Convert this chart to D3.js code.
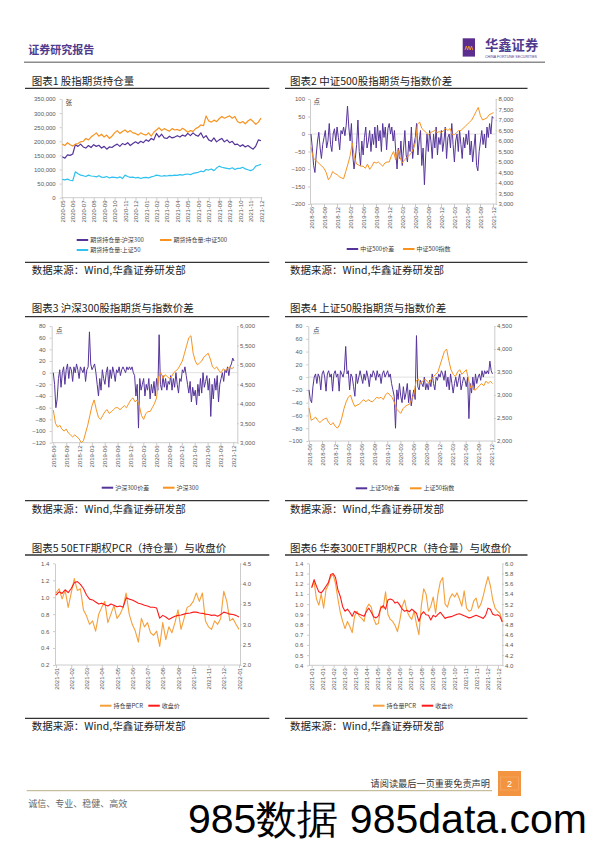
<!DOCTYPE html>
<html><head><meta charset="utf-8">
<script src="https://cdn.jsdelivr.net/npm/d3@7/dist/d3.min.js"></script>
<style>html,body{margin:0;padding:0;background:#fff;}svg{display:block;}</style>
</head><body>
<svg id="page" width="596" height="842"></svg>
<script>
// ---------- DATA ----------
const c1Labels = ["2020-05","2020-06","2020-07","2020-08","2020-09","2020-10","2020-11","2020-12","2021-01","2021-02","2021-03","2021-04","2021-05","2021-06","2021-07","2021-08","2021-09","2021-10","2021-11","2021-12"];
const c1Ticks = [0,50000,100000,150000,200000,250000,300000,350000];
const c1HS300 = [145000,140000,152000,150000,155000,188000,182000,190000,180000,176000,185000,178000,188000,182000,186000,176000,182000,172000,180000,178000,185000,190000,182000,192000,188000,195000,185000,192000,198000,192000,200000,195000,205000,200000,210000,205000,228000,215000,225000,212000,210000,218000,212000,215000,220000,215000,222000,218000,228000,220000,230000,222000,218000,230000,212000,220000,205000,200000,212000,198000,205000,210000,198000,205000,195000,200000,188000,190000,182000,188000,180000,185000,178000,172000,183000,205000,202000];
const c1ZZ500 = [190000,185000,195000,188000,183000,190000,192000,198000,200000,210000,205000,215000,222000,230000,218000,225000,215000,222000,210000,218000,230000,238000,228000,235000,240000,232000,238000,230000,228000,222000,230000,225000,222000,230000,218000,232000,240000,248000,238000,245000,240000,236000,245000,240000,242000,238000,246000,240000,232000,238000,235000,245000,250000,258000,255000,290000,272000,268000,275000,270000,280000,288000,282000,286000,290000,282000,288000,270000,265000,270000,262000,272000,278000,270000,260000,268000,282000];
const c1SZ50 = [65000,63000,66000,62000,60000,92000,85000,80000,78000,75000,80000,77000,76000,74000,78000,73000,72000,75000,70000,73000,72000,70000,74000,68000,80000,75000,72000,73000,70000,72000,68000,71000,72000,70000,74000,76000,80000,78000,76000,78000,77000,79000,78000,80000,79000,82000,80000,83000,84000,82000,86000,88000,90000,94000,92000,100000,98000,102000,96000,105000,112000,108000,106000,104000,102000,106000,100000,104000,104000,108000,102000,99000,96000,100000,112000,115000,118000];

const qLabels = ["2018-06","2018-09","2018-12","2019-03","2019-06","2019-09","2019-12","2020-03","2020-06","2020-09","2020-12","2021-03","2021-06","2021-09","2021-12"];

const c2LeftTicks = [-200,-150,-100,-50,0,50,100];
const c2RightTicks = [3000,3500,4000,4500,5000,5500,6000,6500,7000,7500,8000];
const c2Spread = [0,-40,-90,-110,-60,-20,5,-40,-70,-30,
 -10,10,-40,-20,30,-30,-50,0,15,-20,
 20,-10,-45,10,0,20,-5,25,80,20,
 -20,30,-60,-100,-70,-30,40,-50,-90,-20,
 -60,-10,20,-40,-20,10,-50,0,-30,20,
 -40,25,-20,10,-50,30,-10,20,-45,15,
 30,0,20,-20,10,-50,-100,-40,-70,-20,
 -90,-40,10,-60,-80,-20,-50,20,-70,-30,
 -10,30,-60,-20,10,-90,-40,-145,-60,0,
 -50,10,-20,-70,0,-40,20,-60,-10,-30,
 10,-50,-20,20,-70,-10,0,-40,30,-30,
 -80,-20,0,-50,10,-30,-70,-10,-40,0,
 -30,10,-60,-20,-80,-40,0,-90,-105,-50,
 -20,10,-30,0,-40,20,-10,30,0,50,45];
const c2Index = [5700,5200,5100,5000,4900,4800,
 4700,4500,4150,4300,4550,4450,
 4400,4300,4250,4200,4550,4900,
 5300,5900,5200,4900,4850,4800,
 4800,4700,4900,4650,4800,5000,
 4950,5000,4900,4800,4950,5000,
 5000,5300,5500,5100,5600,5200,
 4950,5100,5200,5300,5400,5600,
 5900,6800,6900,6600,6500,6400,
 6300,6400,6450,6500,6400,6450,
 6400,6500,6600,6500,6600,6300,
 6300,6400,6500,6500,6600,6700,
 6800,6900,7000,7200,7400,7600,
 7200,7000,7050,7100,7250,7300,7350];

const c3LeftTicks = [-120,-100,-80,-60,-40,-20,0,20,40,60,80];
const c3RightTicks = [3000,3500,4000,4500,5000,5500,6000];
const c3Spread = [0,-20,-60,-45,-10,5,-25,0,10,-20,
 5,15,-10,10,5,-15,10,0,15,5,
 -10,10,5,0,10,-15,5,10,70,15,
 5,10,15,0,-20,-40,-10,-30,5,-10,
 -20,0,10,-25,5,-10,10,0,-15,5,
 0,10,-5,5,10,5,0,10,5,10,
 5,10,0,-5,-40,-20,-95,-10,-30,-20,
 -10,-40,-20,-30,-10,-45,-20,-35,-15,-40,
 -10,-30,65,-20,-30,-5,-25,-10,-30,-15,
 -20,-5,-30,-10,-25,0,-20,-35,-10,-15,
 5,0,10,-5,-20,-35,-15,-50,-25,-40,
 -30,-55,-20,-40,-10,-35,0,-25,-15,-5,
 -30,-10,-75,-20,-45,-10,-30,-5,-50,-20,
 -10,0,-15,5,0,10,-5,10,15,25,20];
const c3Index = [3840,3500,3400,3450,3350,3300,
 3350,3250,3200,3150,3200,3150,
 3100,3000,3050,3250,3450,3700,
 3950,4100,3850,3650,3600,3700,
 3800,3850,3750,3800,3850,3900,
 3900,3850,3900,3950,3900,4000,
 4100,4150,4050,4100,3950,3700,
 3600,3750,3800,3800,3900,4000,
 4150,4700,4800,4650,4750,4700,
 4650,4700,4800,4850,4900,5000,
 5100,5300,5500,5700,5750,5300,
 5100,5000,5050,5100,5200,5250,
 5300,5150,4950,4900,4950,4850,
 4800,4900,4850,4900,4950,4900,4950];

const c4LeftTicks = [-100,-80,-60,-40,-20,0,20,40,60,80];
const c4RightTicks = [2000,2500,3000,3500,4000,4500];
const c4Spread = [-20,-35,-40,-15,0,5,-10,5,0,-20,
 5,10,0,-22,5,10,0,5,-22,5,
 10,0,5,-22,10,5,0,10,48,5,
 10,-20,5,0,-15,-30,5,-10,0,10,
 0,-10,5,-5,10,0,-15,5,0,10,
 5,-5,10,0,5,-10,5,10,0,5,
 10,0,5,-10,-20,-30,-80,-20,-35,-10,
 -30,-40,-15,-35,-25,-10,-40,-20,-45,-30,
 -20,-35,65,-15,-20,-5,-10,-15,0,-20,
 -10,-20,-5,-15,5,-10,-20,0,-5,5,
 0,10,5,-5,10,-15,0,-20,5,-10,
 -25,-10,0,-15,-5,5,-20,-10,0,-5,
 -15,0,-65,-10,-25,0,-20,5,-10,0,
 5,-5,10,0,10,5,10,5,25,10,5];
const c4Index = [2720,2450,2480,2520,2450,2400,
 2450,2480,2500,2400,2350,2400,
 2320,2280,2350,2500,2700,2850,
 2950,3000,2850,2750,2780,2800,
 2850,2900,2850,2900,2870,2850,
 2900,2950,2930,2950,2900,3000,
 3050,3000,2950,2850,2700,2650,
 2600,2700,2750,2780,2800,2900,
 3000,3300,3350,3250,3300,3350,
 3300,3250,3350,3400,3450,3500,
 3650,3800,3950,4000,3750,3550,
 3450,3400,3500,3550,3450,3500,
 3550,3350,3150,3200,3100,3150,
 3200,3250,3200,3300,3250,3300,3250];

const c5Labels = ["2021-01","2021-02","2021-03","2021-04","2021-05","2021-06","2021-07","2021-08","2021-09","2021-10","2021-11","2021-12","2022-01"];
const c5LeftTicks = [0.2,0.4,0.6,0.8,1.0,1.2,1.4];
const c5RightTicks = [2.0,2.5,3.0,3.5,4.0,4.5];
const c5PCR = [1.05,1.10,0.98,1.08,0.88,1.05,1.22,1.08,1.10,0.85,
 0.78,0.68,0.72,0.60,0.80,0.88,0.95,0.70,0.80,0.90,
 0.75,0.80,0.88,1.05,0.80,0.68,0.60,0.47,0.75,0.65,
 0.70,0.58,0.55,0.60,0.42,0.70,0.50,0.65,0.58,0.70,
 0.85,0.62,0.75,0.88,0.90,0.95,1.05,0.95,1.05,0.72,
 0.65,0.62,0.72,0.68,0.75,1.07,0.95,0.72,0.75,0.68,0.62];
const c5Close = [3.72,3.80,3.76,3.85,3.78,3.88,4.02,4.05,3.98,3.88,
 3.72,3.62,3.60,3.55,3.50,3.52,3.48,3.45,3.50,3.47,
 3.43,3.45,3.42,3.65,3.62,3.60,3.56,3.52,3.50,3.47,
 3.45,3.42,3.42,3.40,3.15,3.22,3.18,3.12,3.16,3.20,
 3.22,3.23,3.25,3.27,3.28,3.30,3.30,3.28,3.27,3.25,
 3.24,3.22,3.23,3.20,3.24,3.30,3.28,3.25,3.24,3.22,3.18];

const c6Labels = ["2021-01","2021-01","2021-02","2021-03","2021-03","2021-04","2021-05","2021-06","2021-06","2021-07","2021-08","2021-08","2021-09","2021-10","2021-11","2021-11","2021-12","2021-12"];
const c6LeftTicks = [0.4,0.5,0.6,0.7,0.8,0.9,1.0,1.1,1.2,1.3,1.4];
const c6RightTicks = [4.0,4.2,4.4,4.6,4.8,5.0,5.2,5.4,5.6,5.8,6.0];
const c6PCR = [1.17,1.22,1.05,0.99,1.10,0.96,1.14,1.19,1.27,1.29,
 1.20,1.05,0.92,0.83,0.76,0.83,0.78,0.72,0.88,0.93,
 0.88,0.86,0.83,0.96,1.00,0.97,0.86,0.80,0.81,0.98,
 0.96,1.12,0.90,0.85,0.83,0.79,0.73,0.84,0.98,1.04,
 0.93,0.88,0.85,0.93,0.80,0.70,0.98,1.15,1.10,0.93,
 0.98,1.07,0.91,1.10,1.22,1.26,1.00,0.97,1.06,1.10,
 1.07,1.11,1.05,0.98,1.13,0.96,0.93,0.94,1.03,1.06,
 0.96,1.00,1.08,1.18,1.27,1.18,1.04,0.96,0.93,0.91,0.83];
const c6Close = [5.52,5.68,5.55,5.44,5.42,5.48,5.55,5.62,5.78,5.80,
 5.72,5.48,5.35,5.15,5.06,5.10,5.04,4.96,5.06,5.02,
 5.00,4.98,4.96,5.06,5.12,5.04,4.95,4.93,4.97,5.12,
 5.17,5.10,5.28,5.30,5.28,5.22,5.24,5.18,5.10,5.06,
 5.08,5.05,5.10,5.06,5.02,4.86,5.00,5.05,4.99,4.98,
 4.89,4.98,4.95,5.00,5.04,4.98,4.92,4.94,4.95,4.96,
 4.98,5.00,5.01,4.99,4.97,4.95,4.93,4.94,4.96,4.98,
 4.96,4.94,4.92,4.98,5.12,5.10,5.00,4.98,4.99,4.96,4.85];

// ---------- DRAWING ----------
const svg = d3.select("#page");
const CJK = "'Noto Sans CJK SC','Noto Sans',sans-serif";
const LAT = "'Liberation Sans',Arial,sans-serif";
const PURPLE = "#55349a", ORANGE = "#f7931e", CYAN = "#2fc1ef", ORANGE2 = "#f5a03a", RED = "#ff1a1a";
const fmtC = d3.format(","), fmt1 = d3.format(".1f");

function txt(x, y, s, size, fill, opts = {}) {
  const t = svg.append("text").attr("x", x).attr("y", y).text(s)
    .attr("font-size", size).attr("fill", fill).attr("font-family", opts.family || CJK);
  if (opts.anchor) t.attr("text-anchor", opts.anchor);
  if (opts.weight) t.attr("font-weight", opts.weight);
  return t;
}
function hline(x1, x2, y, color, w) {
  svg.append("line").attr("x1", x1).attr("x2", x2).attr("y1", y).attr("y2", y)
    .attr("stroke", color).attr("stroke-width", w);
}

// Header
txt(28.3, 54, "证券研究报告", 11, "#4f3a8d", {weight: 600});
svg.append("rect").attr("x", 462.7).attr("y", 38.3).attr("width", 12.3).attr("height", 18.3).attr("fill", "#5b2d8e");
svg.append("path").attr("d", "M465,50 l1.3,-4 l1.3,4 l1.3,-4 l1.3,4 l1.3,-4 l1.3,4").attr("fill", "none").attr("stroke", "#f39a2c").attr("stroke-width", 0.9);
txt(485, 50, "华鑫证券", 13.3, "#4f3a8d", {weight: 700});
txt(485, 57.5, "CHINA FORTUNE SECURITIES", 3.8, "#4f3a8d", {family: LAT}).attr("textLength", 52).attr("lengthAdjust", "spacingAndGlyphs");
hline(24, 545, 62.3, "#8c8c8c", 1.4);

// Footer
hline(26.7, 492, 790.7, "#b9ae84", 1);
txt(490, 787.3, "请阅读最后一页重要免责声明", 9.2, "#333", {anchor: "end"});
svg.append("rect").attr("x", 498).attr("y", 771).attr("width", 23).attr("height", 25).attr("fill", "#f29440");
svg.append("rect").attr("x", 500.5).attr("y", 777).attr("width", 18).attr("height", 13).attr("fill", "none").attr("stroke", "#f7b47a").attr("stroke-width", 0.5);
txt(509.5, 787.3, "2", 9, "#fff", {anchor: "middle", family: LAT});
txt(28.3, 806.5, "诚信、专业、稳健、高效", 9, "#666");
txt(188, 832.5, "985数据 985data.com", 40, "#000", {family: LAT}).attr("textLength", 399).attr("lengthAdjust", "spacingAndGlyphs");

// Panel frames: title, underline, source
function frame(col, titleY, ulY, srcLineY, srcY, title) {
  const x0 = col === 0 ? 25 : 285, x1 = col === 0 ? 269.3 : 527.5, tx = col === 0 ? 31.7 : 290;
  txt(tx, titleY, title, 10.5, "#222");
  hline(x0, x1, ulY, "#333", 1.3);
  hline(x0, x1, srcLineY, "#333", 1.3);
  txt(tx, srcY, "数据来源：Wind,华鑫证券研发部", 10.5, "#222");
}
frame(0, 85.4, 88.3, 262.3, 273.8, "图表1 股指期货持仓量");
frame(1, 85.4, 88.3, 262.3, 273.8, "图表2 中证500股指期货与指数价差");
frame(0, 312.3, 316.7, 500.7, 512.5, "图表3 沪深300股指期货与指数价差");
frame(1, 312.3, 316.7, 500.7, 512.5, "图表4 上证50股指期货与指数价差");
frame(0, 551.7, 555, 718.3, 730.4, "图表5 50ETF期权PCR（持仓量）与收盘价");
frame(1, 551.7, 555, 718.3, 730.4, "图表6 华泰300ETF期权PCR（持仓量）与收盘价");

function styleAxis(g) {
  g.select(".domain").attr("stroke", "#bfbfbf").attr("stroke-width", 0.8);
  g.selectAll(".tick line").attr("stroke", "#bfbfbf").attr("stroke-width", 0.8);
  g.selectAll("text").attr("fill", "#595959").attr("font-size", 6).attr("font-family", LAT);
}

function chart(cfg) {
  const g = svg.append("g");
  const n = cfg.xLabels.length;
  const xl = d3.scaleLinear().domain([0, n - 1]).range(cfg.labelRange);
  const yL = d3.scaleLinear().domain(cfg.yLDomain).range(cfg.yRange);
  const yR = cfg.yRDomain ? d3.scaleLinear().domain(cfg.yRDomain).range(cfg.yRange) : null;
  const yBot = cfg.yRange[0];
  if (cfg.zero) g.append("line").attr("x1", cfg.axL).attr("x2", cfg.axR).attr("y1", yL(0)).attr("y2", yL(0))
    .attr("stroke", "#d9d9d9").attr("stroke-width", 0.8);
  const gL = g.append("g").attr("transform", `translate(${cfg.axL},0)`)
    .call(d3.axisLeft(yL).tickValues(cfg.yLTicks).tickFormat(cfg.yLFmt).tickSizeInner(2).tickSizeOuter(0).tickPadding(cfg.padL));
  styleAxis(gL);
  if (yR) {
    const gR = g.append("g").attr("transform", `translate(${cfg.axR},0)`)
      .call(d3.axisRight(yR).tickValues(cfg.yRTicks).tickFormat(cfg.yRFmt).tickSizeInner(1.5).tickSizeOuter(0).tickPadding(1.2));
    styleAxis(gR);
  }
  const gB = g.append("g").attr("transform", `translate(0,${yBot})`)
    .call(d3.axisBottom(xl).tickValues(d3.range(n)).tickFormat(i => cfg.xLabels[i]).tickSizeInner(3).tickSizeOuter(0));
  styleAxis(gB);
  gB.select(".domain").remove();
  gB.selectAll("text").attr("transform", "rotate(-90)").attr("x", -2.8).attr("y", 0).attr("dy", "0.35em").style("text-anchor", "end");
  g.append("line").attr("x1", cfg.axL).attr("x2", cfg.axR).attr("y1", yBot).attr("y2", yBot).attr("stroke", "#bfbfbf").attr("stroke-width", 0.8);
  cfg.series.forEach(s => {
    const xs = d3.scaleLinear().domain([0, s.values.length - 1]).range(cfg.dataRange);
    const ys = s.axis === "R" ? yR : yL;
    g.append("path").datum(s.values)
      .attr("d", d3.line().x((d, i) => xs(i)).y(d => ys(d)))
      .attr("fill", "none").attr("stroke", s.color).attr("stroke-width", s.width || 1)
      .attr("stroke-linejoin", "round");
  });
  if (cfg.unit) txt(cfg.unit[0], cfg.unit[1], cfg.unit[2], 6.5, "#404040");
  cfg.legend.forEach(l => {
    g.append("line").attr("x1", l.x).attr("x2", l.x + 11.5).attr("y1", l.y).attr("y2", l.y)
      .attr("stroke", l.color).attr("stroke-width", 2);
    txt(l.x + 13.5, l.y + 2.1, l.label, 6, "#404040");
  });
}

chart({
  xLabels: c1Labels, labelRange: [62.3, 261], dataRange: [62.3, 261],
  axL: 61.7, axR: 262.3, yRange: [197.7, 99],
  yLDomain: [0, 350000], yLTicks: c1Ticks, yLFmt: fmtC, padL: 4,
  series: [
    {values: c1HS300, color: PURPLE, width: 1.2},
    {values: c1ZZ500, color: ORANGE, width: 1.2},
    {values: c1SZ50, color: CYAN, width: 1.2}
  ],
  unit: [65.5, 104.5, "张"],
  legend: [
    {x: 76.7, y: 240, color: PURPLE, label: "期货持仓量:沪深300"},
    {x: 160, y: 240, color: ORANGE, label: "期货持仓量:中证500"},
    {x: 76.7, y: 250, color: CYAN, label: "期货持仓量:上证50"}
  ]
});

chart({
  xLabels: qLabels, labelRange: [311, 493], dataRange: [311, 493.5],
  axL: 310, axR: 495.7, yRange: [204, 99], zero: true,
  yLDomain: [-200, 100], yLTicks: c2LeftTicks, yLFmt: d3.format("d"), padL: 3,
  yRDomain: [3000, 8000], yRTicks: c2RightTicks, yRFmt: fmtC,
  series: [
    {values: c2Spread, color: PURPLE},
    {values: c2Index, color: ORANGE, axis: "R"}
  ],
  unit: [313.5, 104, "点"],
  legend: [
    {x: 346.7, y: 249, color: PURPLE, label: "中证500价差"},
    {x: 403, y: 249, color: ORANGE, label: "中证500指数"}
  ]
});

chart({
  xLabels: qLabels, labelRange: [53.3, 233.3], dataRange: [53.3, 234],
  axL: 51.7, axR: 237.3, yRange: [442.7, 326], zero: true,
  yLDomain: [-120, 80], yLTicks: c3LeftTicks, yLFmt: d3.format("d"), padL: 4,
  yRDomain: [3000, 6000], yRTicks: c3RightTicks, yRFmt: fmtC,
  series: [
    {values: c3Spread, color: PURPLE},
    {values: c3Index, color: ORANGE, axis: "R"}
  ],
  unit: [56, 332.5, "点"],
  legend: [
    {x: 101.7, y: 487.7, color: PURPLE, label: "沪深300价差"},
    {x: 163, y: 487.7, color: ORANGE, label: "沪深300"}
  ]
});

chart({
  xLabels: qLabels, labelRange: [309, 491.7], dataRange: [309, 492.5],
  axL: 308.3, axR: 494.3, yRange: [441, 326], zero: true,
  yLDomain: [-100, 80], yLTicks: c4LeftTicks, yLFmt: d3.format("d"), padL: 4,
  yRDomain: [2000, 4500], yRTicks: c4RightTicks, yRFmt: fmtC,
  series: [
    {values: c4Spread, color: PURPLE},
    {values: c4Index, color: ORANGE, axis: "R"}
  ],
  unit: [313, 332.5, "点"],
  legend: [
    {x: 355.7, y: 488.3, color: PURPLE, label: "上证50价差"},
    {x: 410, y: 488.3, color: ORANGE, label: "上证50指数"}
  ]
});

chart({
  xLabels: c5Labels, labelRange: [56, 239], dataRange: [56, 239],
  axL: 55, axR: 240, yRange: [665, 563.3],
  yLDomain: [0.2, 1.4], yLTicks: c5LeftTicks, yLFmt: fmt1, padL: 3.7,
  yRDomain: [2.0, 4.5], yRTicks: c5RightTicks, yRFmt: fmt1,
  series: [
    {values: c5PCR, color: ORANGE2, width: 1.1},
    {values: c5Close, color: RED, axis: "R", width: 1.1}
  ],
  legend: [
    {x: 100, y: 705.7, color: ORANGE2, label: "持仓量PCR"},
    {x: 148.3, y: 705.7, color: RED, label: "收盘价"}
  ]
});

chart({
  xLabels: c6Labels, labelRange: [311.7, 498], dataRange: [311.7, 502.3],
  axL: 309, axR: 502.3, yRange: [665.3, 563.3],
  yLDomain: [0.4, 1.4], yLTicks: c6LeftTicks, yLFmt: fmt1, padL: 3.7,
  yRDomain: [4.0, 6.0], yRTicks: c6RightTicks, yRFmt: fmt1,
  series: [
    {values: c6PCR, color: ORANGE2, width: 1.1},
    {values: c6Close, color: RED, axis: "R", width: 1.1}
  ],
  legend: [
    {x: 373, y: 705.7, color: ORANGE2, label: "持仓量PCR"},
    {x: 421.7, y: 705.7, color: RED, label: "收盘价"}
  ]
});
</script>
</body></html>
